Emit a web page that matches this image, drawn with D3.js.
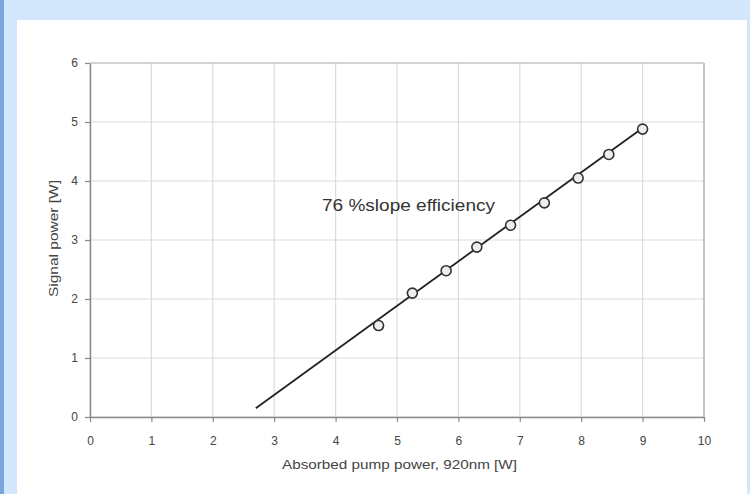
<!DOCTYPE html>
<html><head><meta charset="utf-8">
<script src="https://cdn.jsdelivr.net/npm/d3@7"></script>
<style>
html,body{margin:0;padding:0;background:#d3e6fb;}
svg{display:block;}
</style></head>
<body>
<svg id="c" width="750" height="494"></svg>
<script>
const pumpPower = [4.7, 5.25, 5.8, 6.3, 6.85, 7.4, 7.95, 8.45, 9.0];
const signalPower = [1.55, 2.1, 2.48, 2.88, 3.25, 3.63, 4.05, 4.45, 4.88];
const fitX = [2.7, 9.0];
const fitY = [0.15, 4.9];
const xTicks = [0,1,2,3,4,5,6,7,8,9,10];
const yTicks = [0,1,2,3,4,5,6];
const xTitle = "Absorbed pump power, 920nm [W]";
const yTitle = "Signal power [W]";
const annotation = "76 %slope efficiency";

const font = "Liberation Sans, Arial, sans-serif";
const svg = d3.select("#c");
svg.append("rect").attr("x",0).attr("y",0).attr("width",750).attr("height",494).attr("fill","#d3e6fb");
svg.append("rect").attr("x",0).attr("y",0).attr("width",4).attr("height",494).attr("fill","#7aa6de");
svg.append("rect").attr("x",17).attr("y",20).attr("width",730).attr("height",474).attr("fill","#ffffff");

const x = d3.scaleLinear().domain([0,10]).range([90,704]);
const y = d3.scaleLinear().domain([0,6]).range([417,63]);

const g = svg.append("g");
g.selectAll(".vg").data(xTicks).enter().append("line")
 .attr("x1",d=>x(d)).attr("x2",d=>x(d)).attr("y1",y(6)).attr("y2",y(0))
 .attr("stroke","#dcdcdc").attr("stroke-width",1.2);
g.selectAll(".hg").data(yTicks).enter().append("line")
 .attr("y1",d=>y(d)).attr("y2",d=>y(d)).attr("x1",x(0)).attr("x2",x(10))
 .attr("stroke","#dcdcdc").attr("stroke-width",1.2);
g.append("line").attr("x1",x(10)).attr("x2",x(10)).attr("y1",y(6)).attr("y2",y(0)).attr("stroke","#b8b8b8").attr("stroke-width",1.5);
g.append("line").attr("x1",x(0)).attr("x2",x(10)).attr("y1",y(6)).attr("y2",y(6)).attr("stroke","#c8c8c8").attr("stroke-width",1.5);

const xAxis = d3.axisBottom(x).tickValues(xTicks).tickSize(5).tickSizeOuter(0).tickPadding(14).tickFormat(d3.format("d"));
const yAxis = d3.axisLeft(y).tickValues(yTicks).tickSize(5).tickSizeOuter(0).tickPadding(7).tickFormat(d3.format("d"));
const gx = svg.append("g").attr("transform",`translate(0,${y(0)})`).call(xAxis);
const gy = svg.append("g").attr("transform",`translate(${x(0)},0)`).call(yAxis);
[gx,gy].forEach(a=>{
  a.select(".domain").attr("stroke","#8a8a8a").attr("stroke-width",1.5);
  a.selectAll(".tick line").attr("stroke","#8a8a8a").attr("stroke-width",1.2);
  a.selectAll("text").attr("fill","#444").style("font-family",font).style("font-size","12px");
});

svg.append("line").attr("x1",x(fitX[0])).attr("y1",y(fitY[0])).attr("x2",x(fitX[1])).attr("y2",y(fitY[1]))
 .attr("stroke","#222").attr("stroke-width",1.8);

svg.selectAll(".pt").data(pumpPower.map((p,i)=>[p,signalPower[i]])).enter().append("circle")
 .attr("cx",d=>x(d[0])).attr("cy",d=>y(d[1])).attr("r",5)
 .attr("fill","#eeeeee").attr("stroke","#333").attr("stroke-width",1.6);

svg.append("text").attr("x",322).attr("y",211).text(annotation)
 .attr("textLength",173).attr("lengthAdjust","spacingAndGlyphs")
 .attr("fill","#333").style("font-family",font).style("font-size","16px");

svg.append("text").attr("x",282).attr("y",469).text(xTitle)
 .attr("textLength",235).attr("lengthAdjust","spacingAndGlyphs")
 .attr("fill","#444").style("font-family",font).style("font-size","13.5px");
svg.append("text").attr("transform",`translate(58,297) rotate(-90)`).text(yTitle)
 .attr("textLength",117).attr("lengthAdjust","spacingAndGlyphs")
 .attr("fill","#444").style("font-family",font).style("font-size","13px");
</script>
</body></html>
